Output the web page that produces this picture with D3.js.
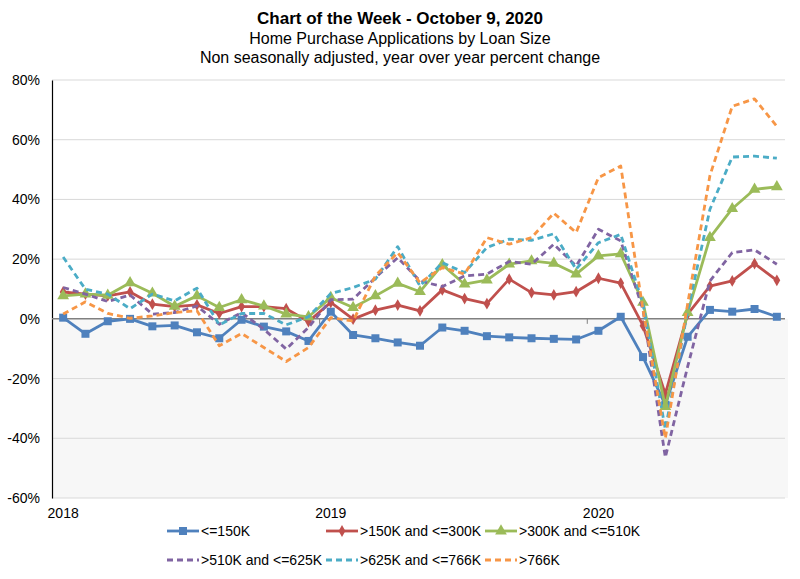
<!DOCTYPE html>
<html><head><meta charset="utf-8">
<script src="https://cdn.jsdelivr.net/npm/d3@7"></script>
<style>
body{margin:0;background:#fff;}
text{font-family:"Liberation Sans Narrow","Arial Narrow","Liberation Sans",Arial,sans-serif;}
</style></head>
<body><svg id="c" width="800" height="579"></svg>
<script>
const months = ["2018-01","2018-02","2018-03","2018-04","2018-05","2018-06","2018-07","2018-08","2018-09","2018-10","2018-11","2018-12",
"2019-01","2019-02","2019-03","2019-04","2019-05","2019-06","2019-07","2019-08","2019-09","2019-10","2019-11","2019-12",
"2020-01","2020-02","2020-03","2020-04","2020-05","2020-06","2020-07","2020-08","2020-09"];
const yearLabels = ["2018","2019","2020"];
const yTicks = [80,60,40,20,0,-20,-40,-60];
const seriesNames = ["<=150K",">150K and <=300K",">300K and <=510K",">510K and <=625K",">625K and <=766K",">766K"];
const le150 = [0.4,-5,-0.8,0,-2.5,-2.2,-4.5,-6.5,-0.3,-2.6,-4.2,-7.4, 2.4,-5.4,-6.5,-7.9,-9,-2.9,-4,-5.8,-6.2,-6.5,-6.7,-6.9, -4,0.7,-12.8,-28.8,-6,3,2.4,3.3,0.7];
const le300 = [9,8.3,7.7,9,4.9,4.1,4.7,1.8,4.1,4.1,3.4,-0.9, 5.5,-0.1,2.9,4.6,2.7,9.7,6.8,5.1,13.3,8.8,8,9.1, 13.6,12,-2.3,-25.2,1.6,11,12.7,18.5,12.9];
const le510 = [7.7,8.3,7.9,12.1,8.6,4.2,7.7,3.8,6.4,4.3,1.6,0.7, 7.1,3.8,7.7,11.9,9.1,18.1,11.6,13,18.3,19.4,18.6,15, 21.1,21.8,5.5,-29.4,2.1,27.2,36.9,43.4,44.2];
const le625 = [10.5,8.3,5.8,8,1.6,2.1,4.3,-1.8,2.1,-3.5,-10.1,-2.9, 6.4,6.6,13.8,20.5,12.7,10.8,14.4,15,19.2,18.3,25,17.7, 30,26.1,3,-46.4,-16,12.7,22.2,23.1,18.3];
const le766 = [20.7,9.9,8.3,3.4,8.3,6,10.3,-2,1.8,1.8,-2,0.7, 8.5,10.5,13.3,24.2,11,18.8,15.5,23.9,26.7,26.3,28.5,16.6, 25.5,28.3,5,-37,2.5,36.7,54.2,54.5,53.8];
const gt766 = [1.6,5.7,1.8,0.2,1,2.1,2.7,-9,-4.9,-9.6,-14.3,-9.6, 0.4,-0.7,14.4,22.2,12.1,17.2,15,27.2,25,27.2,35.4,28.9, 47.3,51.2,3,-40,5,48,71.2,73.7,64.5];

const colors = ["#4F81BD","#C0504D","#9BBB59","#8064A2","#4BACC6","#F79646"];
const dashed = [false,false,false,true,true,true];
const markers = [d3.symbolSquare,d3.symbolDiamond,d3.symbolTriangle,null,null,null];
const markerSizes = [64,40,60,0,0,0];
const allData = [le150,le300,le510,le625,le766,gt766];

const svg = d3.select("#c");
const L=52, R=788, T=80, B=498;
const x = d3.scaleBand().domain(months).range([L,R]);
const cx = m => x(m)+x.bandwidth()/2;
const y = d3.scaleLinear().domain([-60,80]).range([B,T]);

// title
const tg = svg.append("g").attr("text-anchor","middle");
tg.append("text").attr("x",400).attr("y",24).attr("font-size",17).attr("font-weight","bold").text("Chart of the Week - October 9, 2020");
tg.append("text").attr("x",400).attr("y",44).attr("font-size",16).text("Home Purchase Applications by Loan Size");
tg.append("text").attr("x",400).attr("y",63).attr("font-size",16).text("Non seasonally adjusted, year over year percent change");

// negative shading
svg.append("rect").attr("x",L).attr("y",y(0)).attr("width",R-L).attr("height",y(-60)-y(0)).attr("fill","#f7f7f7");

// grid
svg.append("g").selectAll("line").data(yTicks.filter(d=>d!==0)).join("line")
  .attr("x1",L).attr("x2",R-3).attr("y1",d=>y(d)).attr("y2",d=>y(d)).attr("stroke","#d9d9d9").attr("stroke-width",1);

// y axis
const ya = svg.append("g").attr("transform",`translate(${L},0)`)
  .call(d3.axisLeft(y).tickValues(yTicks).tickSize(0).tickPadding(12).tickFormat(d=>d+"%"));
ya.select(".domain").attr("stroke","#000").attr("stroke-width",1.2);
ya.selectAll("text").attr("font-size",14).attr("fill","#000").style("font-family",'"Liberation Sans Narrow","Arial Narrow","Liberation Sans",Arial,sans-serif');

// zero line
svg.append("line").attr("x1",L).attr("x2",R-3).attr("y1",y(0)).attr("y2",y(0)).attr("stroke","#808080").attr("stroke-width",1.5);
// year ticks (between Dec and Jan)
svg.append("g").selectAll("line").data(["2019-01","2020-01"]).join("line")
  .attr("x1",d=>x(d)).attr("x2",d=>x(d)).attr("y1",y(0)).attr("y2",y(0)+5).attr("stroke","#808080").attr("stroke-width",1);

// year labels
svg.append("g").selectAll("text").data(yearLabels).join("text")
  .attr("x",d=>cx(d+"-01")).attr("y",518).attr("text-anchor","middle").attr("font-size",14).text(d=>d);

// lines
const line = d3.line().x((d,i)=>cx(months[i])).y(d=>y(d));
allData.forEach((vals,k)=>{
  svg.append("path").datum(vals).attr("d",line).attr("fill","none")
    .attr("stroke",colors[k]).attr("stroke-width",2.8).attr("stroke-linejoin","round")
    .attr("stroke-dasharray",dashed[k]?"6,4":null);
  if(markers[k]){
    svg.append("g").selectAll("path").data(vals).join("path")
      .attr("d",d3.symbol().type(markers[k]).size(markerSizes[k]))
      .attr("transform",(d,i)=>`translate(${cx(months[i])},${y(d)})`)
      .attr("fill",colors[k]);
  }
});

// legend
const legPos = [[167,531],[326,531],[485,531],[167,560],[326,560],[485,560]];
seriesNames.forEach((n,k)=>{
  const [lx,ly]=legPos[k];
  const g=svg.append("g");
  g.append("line").attr("x1",lx).attr("x2",lx+32).attr("y1",ly).attr("y2",ly)
    .attr("stroke",colors[k]).attr("stroke-width",2.8).attr("stroke-dasharray",dashed[k]?"6,4":null);
  if(markers[k]) g.append("path").attr("d",d3.symbol().type(markers[k]).size(markerSizes[k]))
    .attr("transform",`translate(${lx+16},${ly})`).attr("fill",colors[k]);
  g.append("text").attr("x",lx+34).attr("y",ly+5).attr("font-size",14).text(n);
});
</script></body></html>
